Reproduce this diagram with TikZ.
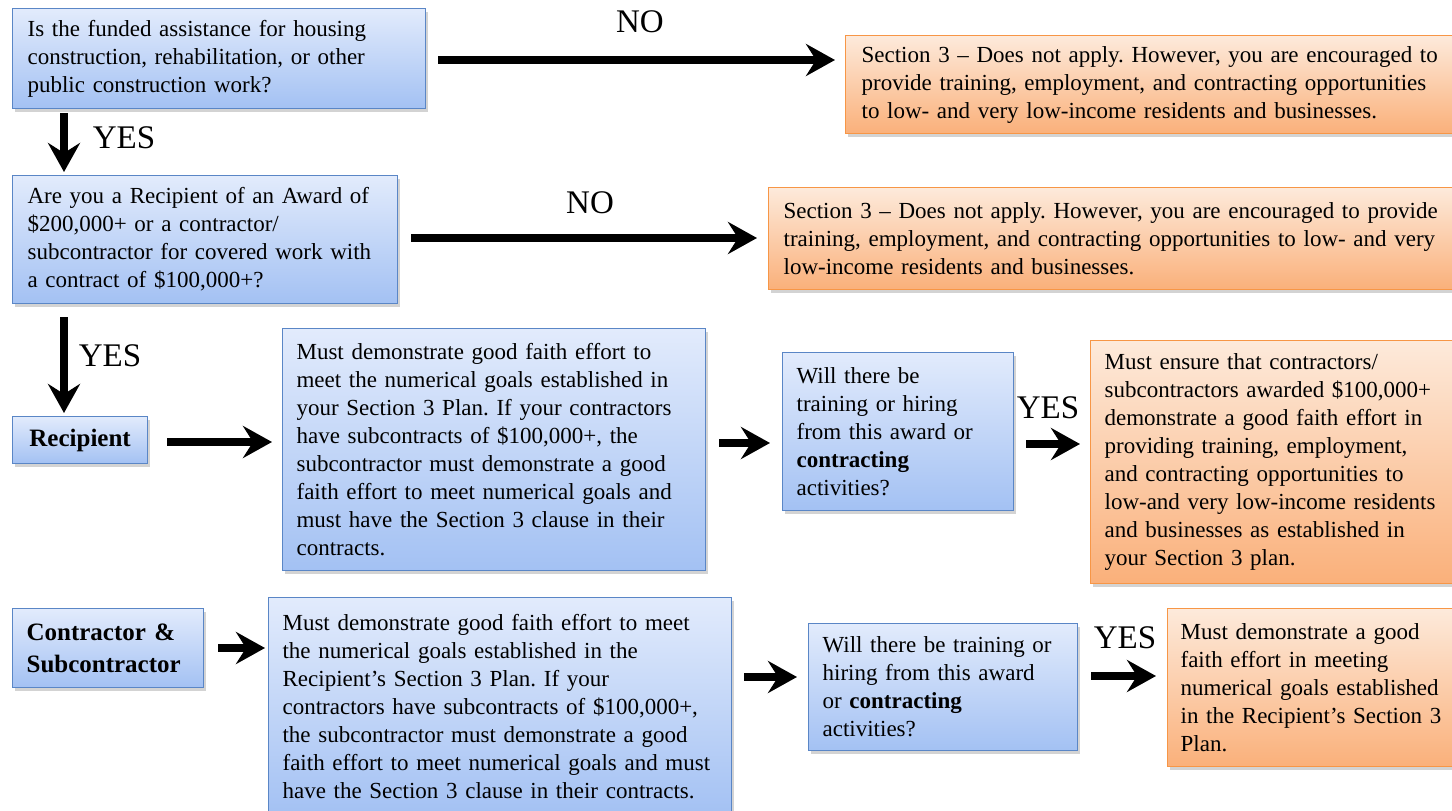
\documentclass[tikz,border=0pt]{standalone}
\usepackage{fontspec}
\setmainfont{Liberation Serif}
\frenchspacing
\usetikzlibrary{arrows.meta,shadows}
\definecolor{btop}{HTML}{E2EBFC}
\definecolor{bbot}{HTML}{A3C1F3}
\definecolor{bline}{HTML}{5A86C6}
\definecolor{otop}{HTML}{FDEADB}
\definecolor{obot}{HTML}{FAB07A}
\definecolor{oline}{HTML}{F79646}
\tikzset{
  base/.style={anchor=north west, inner xsep=15pt, inner ysep=2pt, align=left,
    font=\fontsize{23}{28}\selectfont, line width=1.2pt,
    drop shadow={opacity=0.35, shadow xshift=2pt, shadow yshift=-3pt}},
  bluebox/.style={base, draw=bline, top color=btop, bottom color=bbot},
  orangebox/.style={base, draw=oline, top color=otop, bottom color=obot},
  lab/.style={font=\fontsize{33}{36}\selectfont, inner sep=0pt},
  arr/.style={line width=8pt, -{Stealth[length=29pt, width=32pt, inset=10pt]}},
}
\begin{document}
\begin{tikzpicture}[x=1pt,y=-1pt]
\useasboundingbox (0,0) rectangle (1452,811);
% row 1
\node[bluebox, minimum width=413pt, minimum height=100pt, text width=383pt] (q1) at (12,8)
 {Is the funded assistance for housing\\ construction, rehabilitation, or other\\ public construction work?};
\node[orangebox, minimum width=620pt, minimum height=98pt, text width=590pt, inner xsep=16pt] (no1) at (845,35)
 {Section 3 -- Does not apply. However, you are encouraged to\\ provide training, employment, and contracting opportunities\\ to low- and very low-income residents and businesses.};
% row 2
\node[bluebox, minimum width=385pt, minimum height=128pt, text width=355pt] (q2) at (12,175)
 {Are you a Recipient of an Award of\\ \$200,000+ or a contractor/\\ subcontractor for covered work with\\ a contract of \$100,000+?};
\node[orangebox, minimum width=700pt, minimum height=102pt, text width=670pt] (no2) at (768,187)
 {Section 3 -- Does not apply. However, you are encouraged to provide\\ training, employment, and contracting opportunities to low- and very\\ low-income residents and businesses.};
% row 3
\node[bluebox, minimum width=135pt, minimum height=47pt, text width=115pt, inner xsep=10pt, align=center, font=\fontsize{25}{28}\selectfont\bfseries] (rec) at (12,416)
 {Recipient};
\node[bluebox, minimum width=423pt, minimum height=242pt, text width=395pt, inner xsep=14pt] (rbox) at (282,328)
 {Must demonstrate good faith effort to\\ meet the numerical goals established in\\ your Section 3 Plan. If your contractors\\ have subcontracts of \$100,000+, the\\ subcontractor must demonstrate a good\\ faith effort to meet numerical goals and\\ must have the Section 3 clause in their\\ contracts.};
\node[bluebox, minimum width=231pt, minimum height=158pt, text width=203pt, inner xsep=14pt] (w1) at (782,352)
 {Will there be\\ training or hiring\\ from this award or\\ \textbf{contracting}\\ activities?};
\node[orangebox, minimum width=375pt, minimum height=243pt, text width=347pt, inner xsep=14pt] (o3) at (1090,340)
 {Must ensure that contractors/\\ subcontractors awarded \$100,000+\\ demonstrate a good faith effort in\\ providing training, employment,\\ and contracting opportunities to\\ low-and very low-income residents\\ and businesses as established in\\ your Section 3 plan.};
% row 4
\node[bluebox, minimum width=191pt, minimum height=79pt, text width=163pt, inner xsep=14pt, font=\fontsize{25}{32}\selectfont\bfseries] (con) at (12,608)
 {Contractor \&\\ Subcontractor};
\node[bluebox, minimum width=463pt, minimum height=218pt, text width=435pt, inner xsep=14pt] (cbox) at (268,597)
 {Must demonstrate good faith effort to meet\\ the numerical goals established in the\\ Recipient’s Section 3 Plan. If your\\ contractors have subcontracts of \$100,000+,\\ the subcontractor must demonstrate a good\\ faith effort to meet numerical goals and must\\ have the Section 3 clause in their contracts.};
\node[bluebox, minimum width=269pt, minimum height=127pt, text width=241pt, inner xsep=14pt] (w2) at (808,623)
 {Will there be training or\\ hiring from this award\\ or \textbf{contracting}\\ activities?};
\node[orangebox, minimum width=298pt, minimum height=158pt, text width=272pt, inner xsep=13pt] (o4) at (1167,608)
 {Must demonstrate a good\\ faith effort in meeting\\ numerical goals established\\ in the Recipient’s Section 3\\ Plan.};
% connectors
\draw[arr, shorten <=12pt, shorten >=10pt] (q1.east |- 0,60) -- (no1.west |- 0,60);
\node[lab] (nolab1) at (640,22) {NO};
\draw[arr, shorten <=13pt, shorten >=11pt] (q2.east |- 0,238) -- (no2.west |- 0,238);
\node[lab] (nolab2) at (590,203) {NO};
\draw[arr, shorten <=4pt, shorten >=3pt] ([xshift=52pt]q1.south west) -- ([xshift=52pt]q2.north west);
\node[lab] (ylab1) at (124,138) {YES};
\draw[arr, shorten <=13pt, shorten >=3pt] ([xshift=52pt]q2.south west) -- ([xshift=52pt]rec.north west);
\node[lab] (ylab2) at (110,356) {YES};
\draw[arr, shorten <=19pt, shorten >=10pt] (rec.east |- 0,442) -- (rbox.west |- 0,442);
\draw[arr, shorten <=13pt, shorten >=12pt] (rbox.east |- 0,443) -- (w1.west |- 0,443);
\draw[arr, shorten <=12pt, shorten >=10pt] (w1.east |- 0,444) -- (o3.west |- 0,444);
\node[lab] (ylab3) at (1048,408) {YES};
\draw[arr, shorten <=14pt, shorten >=3pt] (con.east |- 0,648) -- (cbox.west |- 0,648);
\draw[arr, shorten <=12pt, shorten >=11pt] (cbox.east |- 0,677) -- (w2.west |- 0,677);
\draw[arr, shorten <=13pt, shorten >=11pt] (w2.east |- 0,676) -- (o4.west |- 0,676);
\node[lab] (ylab4) at (1125,638) {YES};
\end{tikzpicture}
\end{document}
